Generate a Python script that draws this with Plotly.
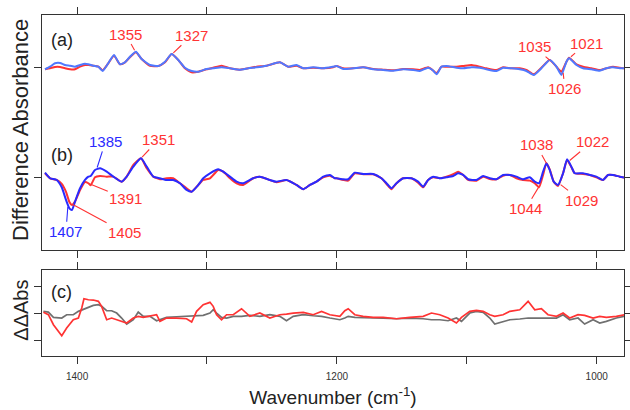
import numpy as np
import plotly.graph_objects as go

# ---------------- data ----------------
wn_a = [1424.7, 1420.8, 1417.0, 1413.1, 1409.3, 1405.4, 1401.6, 1397.7, 1393.9, 1391.3,
        1387.5, 1383.6, 1380.3, 1376.0, 1371.6, 1367.0, 1363.1, 1359.3, 1354.7, 1350.3,
        1343.9, 1337.5, 1332.3, 1327.2, 1322.1, 1317.0, 1311.8, 1306.7, 1300.3, 1295.2,
        1288.8, 1282.3, 1274.6, 1268.2, 1261.8, 1254.1, 1243.9, 1237.5, 1231.1, 1225.9,
        1218.2, 1210.5, 1202.9,
        1200.3, 1195.1, 1187.4, 1179.8, 1172.1, 1164.4, 1156.7, 1149.0, 1141.3, 1136.2,
        1129.8, 1126.4, 1123.3, 1119.5, 1115.7, 1107.9, 1102.8, 1096.4, 1090.0, 1084.9,
        1077.2, 1072.1, 1065.7, 1059.2, 1054.1, 1048.5, 1042.6, 1036.2, 1031.0, 1027.2,
        1023.3, 1021.3, 1015.6, 1010.5, 1004.1, 997.7, 992.6, 987.5, 982.3, 978.5]
a_blue = [-1.3, 1.3, 4.7, 5.0, 3.0, 2.3, 1.3, 3.0, 4.3, 3.7,
          2.3, 1.3, -3.0, 4.7, 13.0, 3.7, 5.7, 11.3, 16.3, 9.0,
          3.0, 2.0, 6.3, 14.0, 8.0, 0.3, -3.0, -3.7, -1.0, -0.3,
          0.7, -0.3, -1.7, -0.3, 0.7, 2.3, 5.7, 1.3, 3.0, -0.3,
          0.7, -0.3, 1.3,
          2.0, -1.0, -0.3, 0.7, -1.3, -2.0, -2.7, -1.3, -2.0, -3.0,
          0.3, -2.0, -6.3, 1.3, 2.0, 0.3, -0.3, 0.7, 0.3, -1.3,
          -3.0, 0.3, -0.3, -1.3, -3.0, -7.0, -0.3, 8.0, 1.3, -7.0,
          6.3, 9.7, 3.0, -0.3, -1.3, -2.7, -0.3, 0.7, -0.3, -0.3]
a_red = [-1.3, -0.3, 1.0, 1.0, -0.3, -1.3, -1.3, 1.3, 3.0, 3.0,
         2.3, 1.3, -2.3, 4.7, 12.3, 3.7, 5.7, 10.7, 15.7, 9.0,
         2.3, 2.0, 5.7, 14.0, 8.0, -0.3, -4.3, -3.7, -1.3, 0.3,
         2.3, -0.3, -1.7, -0.3, 1.3, 2.3, 5.7, 1.3, 2.3, -0.3,
         0.3, -0.3, 0.7,
         2.0, -0.3, -0.3, 0.7, -1.0, -1.7, -2.3, -1.0, -1.3, -2.0,
         0.7, -2.0, -5.3, 1.3, 1.3, 1.3, 2.0, 3.0, 1.3, -0.3,
         -2.0, 0.7, -0.3, -0.3, -2.0, -6.3, 0.3, 8.0, 1.3, -3.7,
         6.3, 10.3, 3.7, 1.3, -0.3, -2.0, -0.3, 1.3, 0.3, -0.3]

wn_b = [1424.7, 1420.8, 1415.7, 1411.8, 1408.5, 1405.9, 1403.9, 1401.6, 1397.7, 1393.9,
        1391.3, 1389.5, 1386.2, 1382.3, 1377.2, 1372.1, 1365.7, 1361.8, 1356.7, 1350.8,
        1346.4, 1341.3, 1336.2, 1331.1, 1326.0, 1320.8, 1315.7, 1311.8, 1306.7, 1302.9,
        1297.7, 1291.3, 1287.5, 1282.3, 1277.2, 1272.1, 1264.4, 1259.3, 1251.6, 1246.5,
        1238.8, 1231.1, 1225.9, 1220.8, 1215.7, 1210.5, 1205.4, 1201.6,
        1200.3, 1195.1, 1191.3, 1186.2, 1179.8, 1172.1, 1165.7, 1161.8, 1158.0, 1154.1,
        1149.0, 1142.6, 1137.5, 1133.6, 1129.8, 1125.9, 1120.8, 1115.7, 1110.5, 1106.7,
        1102.8, 1099.0, 1092.6, 1087.4, 1082.3, 1077.2, 1072.1, 1066.9, 1061.8, 1056.7,
        1051.5, 1047.7, 1044.4, 1041.3, 1038.7, 1036.2, 1033.1, 1029.8, 1025.9, 1022.8,
        1019.5, 1016.9, 1010.5, 1005.4, 1000.3, 995.1, 991.3, 987.5, 982.3, 978.5]
b_blue = [5.3, -0.3, -2.0, -9.3, -22.0, -30.3, -32.0, -23.7, -10.3, -2.0,
          1.3, 2.0, 8.0, 9.7, 6.3, 1.3, -3.7, 1.3, 11.3, 19.7,
          11.3, 1.3, -0.3, -2.0, -2.0, -5.3, -12.0, -13.7, -7.0, -0.3,
          4.7, 8.7, 6.3, 1.3, -3.7, -5.3, -0.3, 1.3, -2.0, -3.7,
          -2.0, -7.0, -11.3, -7.0, -3.7, 1.3, 3.0, -0.3,
          -0.3, -1.3, -1.3, 5.3, 4.0, 4.0, -0.3, -5.3, -10.3, -5.3,
          -0.3, -0.3, -3.7, -8.7, -2.0, 1.3, -0.3, 0.7, 2.0, 4.7,
          3.0, -1.3, -2.0, 2.0, -0.3, -1.3, 3.0, 3.0, 1.3, -1.3,
          0.7, -3.7, -5.3, 6.3, 14.7, 8.0, -3.7, -7.0, 4.7, 18.7,
          11.3, 4.7, 4.7, 3.0, 1.3, -2.0, 3.0, 3.0, 1.3, 0.3]
b_red = [4.7, -0.3, -2.0, -6.0, -14.0, -24.0, -27.0, -23.7, -12.0, -4.0,
         -5.3, -7.3, 0.7, 2.0, 1.3, 1.3, -3.7, 1.3, 13.0, 19.7,
         9.7, 1.3, -1.3, -0.3, -0.3, -5.3, -10.3, -13.7, -7.0, -2.0,
         -0.3, 8.0, 6.3, -0.3, -5.3, -7.0, -0.3, 1.3, -2.0, -4.3,
         -2.0, -7.0, -11.3, -7.0, -3.7, 0.7, 2.3, -0.3,
         -0.3, -2.0, -2.7, 4.7, 3.7, 3.7, -0.3, -6.0, -11.3, -5.3,
         -0.3, -0.3, -4.7, -9.3, -2.0, 0.7, -0.3, 1.3, 3.7, 6.3,
         3.0, -2.0, -2.7, 1.3, -1.0, -1.3, 2.3, 3.0, -0.3, -2.0,
         -2.7, -5.3, -9.3, 3.0, 14.7, 8.7, -3.7, -8.0, 4.7, 18.0,
         10.7, 4.7, 4.0, 3.0, 0.7, -2.0, 3.0, 3.0, 1.3, 0.3]

wn_c = [1425.9, 1422.1, 1418.2, 1414.4, 1411.8, 1408.0, 1402.9, 1399.0, 1396.4, 1394.7,
        1391.3, 1387.5, 1383.6, 1381.1, 1377.2, 1373.4, 1369.5, 1365.7, 1361.8, 1356.7,
        1352.9, 1349.0, 1343.9, 1338.8, 1336.2, 1331.1, 1323.4, 1315.7, 1311.8, 1308.0,
        1302.9, 1297.7, 1295.2, 1292.6, 1288.8, 1284.9, 1279.8, 1273.4, 1267.0, 1259.3,
        1251.6, 1243.9, 1238.8, 1233.6, 1225.9, 1218.2, 1211.8, 1205.4, 1197.7,
        1193.9, 1191.3, 1186.2, 1179.8, 1172.1, 1164.4, 1154.1, 1143.9, 1133.6, 1127.2,
        1120.8, 1114.4, 1108.0, 1104.1, 1097.7, 1092.6, 1087.4, 1082.3, 1078.5, 1072.1,
        1066.9, 1059.2, 1052.8, 1047.7, 1042.6, 1037.5, 1031.0, 1025.9, 1020.8, 1014.4,
        1009.3, 1002.8, 997.7, 992.6, 984.9, 978.5]
c_gray = [1.7, 1.0, -4.3, -5.0, -5.0, -1.7, -1.7, 1.7, 3.3, 4.3,
          5.7, 7.7, 8.3, 6.7, 2.3, 2.3, 0.0, -5.0, -11.0, -6.7,
          1.0, -3.3, -3.3, -7.7, -6.7, -4.3, -3.7, -3.3, -3.3, -2.7,
          -2.3, 0.0, 3.3, 0.0, -4.3, -5.0, -3.3, -3.3, -2.3, -3.3,
          -1.7, -3.3, -7.7, -3.3, -1.7, -2.7, -3.3, -5.0, -6.7,
          -5.0, -3.3, -4.3, -4.3, -4.3, -5.0, -5.7, -5.0, -5.7, -6.7,
          -6.7, -7.7, -5.0, -8.3, 0.0, 1.7, 0.7, -5.0, -11.0, -8.3,
          -6.7, -6.0, -5.0, -5.0, -5.0, -4.3, -5.0, -1.7, -6.7, -5.0,
          -11.0, -6.7, -10.0, -8.3, -5.0, -3.3]
c_red = [0.7, -1.7, -11.7, -18.3, -22.7, -15.0, -6.7, -5.0, 5.0, 14.3,
         13.3, 13.0, 11.7, 6.7, -6.7, -5.0, -6.7, -8.3, -10.0, -5.0,
         -3.3, -4.3, -2.7, -1.7, -8.3, -5.0, -5.0, -5.7, -9.0, 1.7,
         8.3, 10.7, 6.7, -1.7, -6.7, -1.7, -1.7, 4.3, -3.3, 0.0,
         -5.0, -1.7, -1.0, 0.0, 0.7, -1.7, 1.7, -1.7, -3.3,
         2.3, 4.3, -1.7, -3.3, -4.3, -4.3, -5.7, -4.3, -3.3, 0.0,
         -1.7, -5.0, -10.0, -4.3, 1.7, 2.7, 1.7, -1.7, -3.3, -1.7,
         1.7, 3.3, 11.7, 3.3, 4.3, -1.7, -3.3, 0.0, -5.0, -1.7,
         -2.3, -5.0, -3.3, -4.3, -3.3, -1.7]

B_OFFSET = -110.0          # vertical offset of trace (b) in panel 1
x_major = [1400, 1200, 1000]
x_minor = [1300, 1100]

RED = "#ff3333"
BLUE_A = "#5078ff"
BLUE_B = "#2a2aff"
GRAY = "#707070"
FRAME = "#333333"

fig = go.Figure()


def add(x, y, color, xa, ya, offset=0.0, shape="spline", width=2.0):
    fig.add_trace(go.Scatter(
        x=x, y=np.asarray(y) + offset, mode="lines",
        line=dict(color=color, width=width, shape=shape, smoothing=0.5),
        xaxis=xa, yaxis=ya, hoverinfo="skip", showlegend=False))


add(wn_a, a_red, RED, "x", "y")
add(wn_a, a_blue, BLUE_A, "x", "y")
add(wn_b, b_red, RED, "x", "y", B_OFFSET)
add(wn_b, b_blue, BLUE_B, "x", "y", B_OFFSET)
add(wn_c, c_gray, GRAY, "x2", "y2", shape="linear", width=1.7)
add(wn_c, c_red, RED, "x2", "y2", shape="linear", width=1.7)

axis_common = dict(showline=True, linecolor=FRAME, linewidth=1.3, mirror="ticks",
                   ticks="outside", ticklen=7, tickwidth=1.3, tickcolor=FRAME,
                   showgrid=False, zeroline=False, automargin=False)
minor_x = dict(tickvals=x_minor, ticks="outside", ticklen=7, tickwidth=1.3,
               tickcolor=FRAME, showgrid=False)

fig.update_layout(
    width=630, height=410,
    margin=dict(l=42, r=6, t=15, b=54, autoexpand=False),
    paper_bgcolor="white", plot_bgcolor="white",
    font=dict(family="Liberation Sans, Arial, sans-serif", color="#222"),
    xaxis=dict(domain=[0, 1], range=[1427, 979], anchor="y",
               tickvals=x_major, minor=minor_x, showticklabels=False, **axis_common),
    xaxis2=dict(domain=[0, 1], range=[1427, 979], anchor="y2", matches="x",
                tickvals=x_major, minor=minor_x, ticklabelstandoff=4,
                tickfont=dict(size=10, color="#333"),
                title=dict(text="Wavenumber (cm<sup>-1</sup>)", font=dict(size=19, color="#222"),
                           standoff=9),
                **axis_common),
    yaxis=dict(domain=[0.311, 1], range=[-182, 53], tickvals=[B_OFFSET, 0],
               showticklabels=False, **axis_common),
    yaxis2=dict(domain=[0, 0.252], range=[-43, 43], tickvals=[-27, 0, 27],
                showticklabels=False, **axis_common),
)


def interp(wn, xs, ys, offset=0.0):
    return float(np.interp(wn, xs[::-1], ys[::-1])) + offset


anns = []
# axis titles
anns.append(dict(text="Difference Absorbance", xref="paper", yref="paper", x=-0.036, y=0.663,
                 textangle=-90, showarrow=False, font=dict(size=22, color="#222"),
                 xanchor="center", yanchor="middle"))
anns.append(dict(text="ΔΔAbs", xref="paper", yref="paper", x=-0.036, y=0.133,
                 textangle=-90, showarrow=False, font=dict(size=20, color="#222"),
                 xanchor="center", yanchor="middle"))
# panel labels
anns.append(dict(text="(a)", xref="x", yref="y", x=1411.5, y=28, showarrow=False,
                 font=dict(size=18, color="#222")))
anns.append(dict(text="(b)", xref="x", yref="y", x=1411.5, y=B_OFFSET + 23, showarrow=False,
                 font=dict(size=18, color="#222")))
anns.append(dict(text="(c)", xref="x2", yref="y2", x=1412, y=21, showarrow=False,
                 font=dict(size=18, color="#222")))

wa = np.asarray(wn_a); wb = np.asarray(wn_b)
peak_labels = [
    # (label wavenumber, xs, ys, offset, color, ax, ay)
    (1355, wa, np.asarray(a_blue), 0.0, RED, -10, -18),
    (1327, wa, np.asarray(a_blue), 0.0, RED, 20, -19),
    (1035, wa, np.asarray(a_red), 0.0, RED, -17, -15),
    (1021, wa, np.asarray(a_red), 0.0, RED, 17, -15),
    (1026, wa, np.asarray(a_blue), 0.0, RED, 2, 18),
    (1385, wb, np.asarray(b_blue), B_OFFSET, BLUE_B, 9, -28),
    (1351, wb, np.asarray(b_red), B_OFFSET, RED, 18, -19),
    (1391, wb, np.asarray(b_red), B_OFFSET, RED, 37, 15),
    (1407, wb, np.asarray(b_blue), B_OFFSET, BLUE_B, -2, 27),
    (1405, wb, np.asarray(b_red), B_OFFSET, RED, 54, 29),
    (1038, wb, np.asarray(b_red), B_OFFSET, RED, -11, -20),
    (1022, wb, np.asarray(b_red), B_OFFSET, RED, 24, -20),
    (1044, wb, np.asarray(b_red), B_OFFSET, RED, -14, 23),
    (1029, wb, np.asarray(b_red), B_OFFSET, RED, 22, 17),
]
for wn, xs, ys, off, col, ax, ay in peak_labels:
    anns.append(dict(text=str(wn), xref="x", yref="y", x=wn, y=interp(wn, xs, ys, off),
                     ax=ax, ay=ay, showarrow=True, arrowhead=0, arrowwidth=1.1,
                     arrowcolor=col, standoff=2, font=dict(size=15, color=col)))

fig.update_layout(annotations=anns)
fig.write_html("out.html", config={"displayModeBar": False},
               post_script="document.body.style.margin='0';document.body.style.padding='0';")
